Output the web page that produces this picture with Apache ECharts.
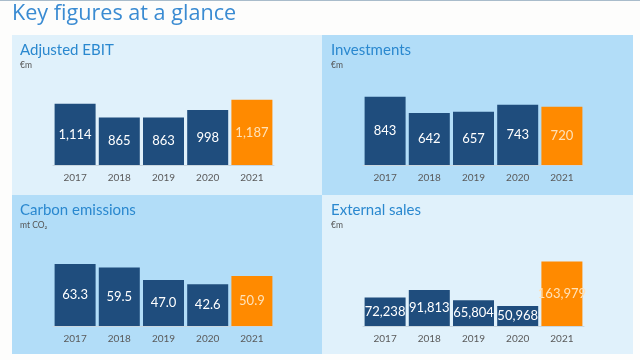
<!DOCTYPE html>
<html>
<head>
<meta charset="utf-8">
<script src="https://cdn.jsdelivr.net/npm/echarts@6/dist/echarts.min.js"></script>
<style>
html,body{margin:0;padding:0;background:#fdfdfc;}
#main{width:640px;height:360px;}
</style>
</head>
<body>
<div id="main"></div>
<script>
// ---- data ----
var years = ['2017', '2018', '2019', '2020', '2021'];
var ebitValues = [1114, 865, 863, 998, 1187];
var investValues = [843, 642, 657, 743, 720];
var carbonValues = [63.3, 59.5, 47.0, 42.6, 50.9];
var salesValues = [72238, 91813, 65804, 50968, 163979];
var ebitLabels = ['1,114', '865', '863', '998', '1,187'];
var investLabels = ['843', '642', '657', '743', '720'];
var carbonLabels = ['63.3', '59.5', '47.0', '42.6', '50.9'];
var salesLabels = ['72,238', '91,813', '65,804', '50,968', '163,979'];
var mainTitle = 'Key figures at a glance';
var panelTitles = ['Adjusted EBIT', 'Investments', 'Carbon emissions', 'External sales'];
var panelUnits = ['€m', '€m', 'mt CO₂', '€m'];

// ---- styling / layout ----
var NAVY = '#1f4d7d', ORANGE = '#ff8a00';
var LIGHT = '#e0f1fb', DARK = '#b2ddf8';
var FONT = 'Lato, "Open Sans", sans-serif';

var panels = [
  {x: 12, y: 35, w: 310, h: 160, bg: LIGHT, tx: 20, grid: {left: 53, width: 221, top: 88, height: 77}, max: 1400, vals: ebitValues, labels: ebitLabels},
  {x: 322, y: 35, w: 311, h: 160, bg: DARK, tx: 331, grid: {left: 363, width: 221, top: 84, height: 81}, max: 1000, vals: investValues, labels: investLabels},
  {x: 12, y: 195, w: 310, h: 159, bg: DARK, tx: 20, grid: {left: 53, width: 221, top: 247.5, height: 78.5}, max: 80, vals: carbonValues, labels: carbonLabels},
  {x: 322, y: 195, w: 311, h: 159, bg: LIGHT, tx: 331, grid: {left: 363, width: 221, top: 247.4, height: 78.6}, max: 200000, vals: salesValues, labels: salesLabels}
];

var grids = [], xAxes = [], yAxes = [], series = [], titles = [], graphics = [];

titles.push({text: mainTitle, left: 12, top: 3, padding: 0, textStyle: {fontFamily: '"Open Sans", sans-serif', fontSize: 21.6, fontWeight: 'normal', color: '#3a8bd2'}});
graphics.push({type: 'rect', shape: {x: 0, y: 0, width: 640, height: 1}, style: {fill: '#a9bccb'}, z: -1});

panels.forEach(function (p, i) {
  graphics.push({type: 'rect', shape: {x: p.x, y: p.y, width: p.w, height: p.h}, style: {fill: p.bg}, z: -10});
  titles.push({text: panelTitles[i], left: p.tx, top: p.y + 8, padding: 0, textStyle: {fontFamily: FONT, fontSize: 15, fontWeight: 'normal', color: '#2a88cf'}});
  titles.push({text: panelUnits[i], left: p.tx, top: p.y + 26, padding: 0, textStyle: {fontFamily: FONT, fontSize: 8.5, fontWeight: 'normal', color: '#555'}});
  grids.push({left: p.grid.left, width: p.grid.width, top: p.grid.top, height: p.grid.height, containLabel: false});
  xAxes.push({type: 'category', gridIndex: i, data: years,
    axisLine: {show: true, lineStyle: {color: '#c9d6de', width: 1}},
    axisTick: {show: false},
    axisLabel: {color: '#5a5a5a', fontSize: 10, fontFamily: FONT, margin: 8}});
  yAxes.push({type: 'value', gridIndex: i, min: 0, max: p.max, show: false, splitLine: {show: false}});
  var last = p.vals.length - 1;
  series.push({type: 'bar', xAxisIndex: i, yAxisIndex: i, barWidth: 41,
    data: p.vals.map(function (v, k) {
      return {value: v, itemStyle: {color: k === last ? ORANGE : NAVY},
        label: {color: k === last ? '#ffe2b8' : '#ffffff'}};
    }),
    label: {show: true, position: 'inside', fontFamily: FONT, fontSize: 13,
      formatter: function (d) { return p.labels[d.dataIndex]; }},
    silent: true, animation: false});
});

var chart = echarts.init(document.getElementById('main'), null, {renderer: 'canvas'});
chart.setOption({
  backgroundColor: '#fdfdfc',
  animation: false,
  title: titles,
  grid: grids,
  xAxis: xAxes,
  yAxis: yAxes,
  series: series,
  graphic: graphics
});
</script>
</body>
</html>
